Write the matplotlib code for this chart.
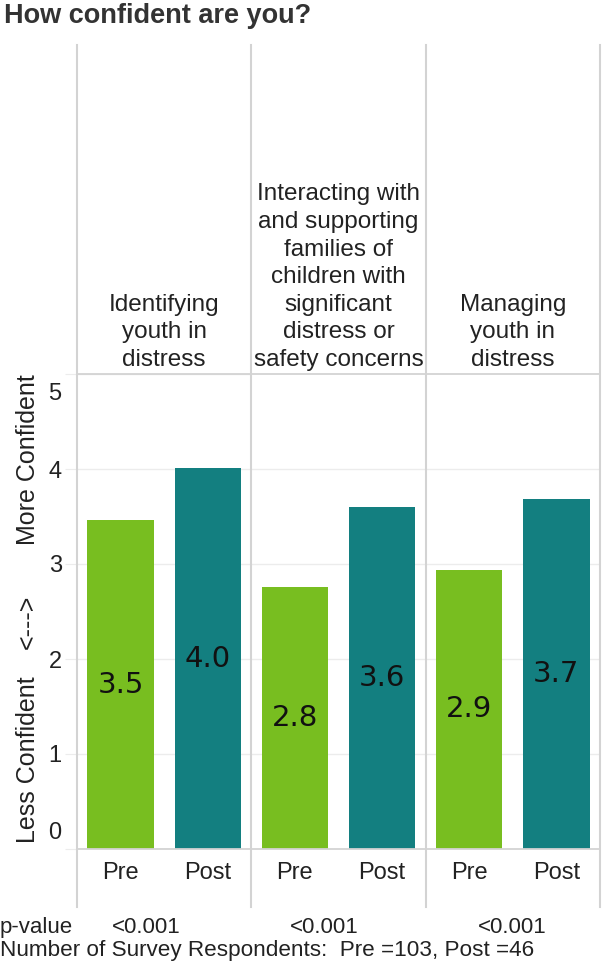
import matplotlib
matplotlib.use("Agg")
import matplotlib.pyplot as plt
from matplotlib.lines import Line2D
import matplotlib.transforms as mtrans

# ---- data ----
categories = ["Identifying\nyouth in\ndistress",
              "Interacting with\nand supporting\nfamilies of\nchildren with\nsignificant\ndistress or\nsafety concerns",
              "Managing\nyouth in\ndistress"]
groups = ["Pre", "Post"]
pre_values = [3.46, 2.76, 2.94]
post_values = [4.01, 3.60, 3.68]
p_values = ["<0.001", "<0.001", "<0.001"]
y_ticks = [0, 1, 2, 3, 4, 5]
colors = {"Pre": "#78BE20", "Post": "#137F80"}

W, H = 603, 971
DPI = 100
fig = plt.figure(figsize=(W / DPI, H / DPI), dpi=DPI)
fig.patch.set_facecolor("white")

SANS = ["Liberation Sans", "DejaVu Sans"]
TXT = "#222222"
DIV = "#d3d3d3"
GRID = "#ececec"

def fx(px):
    return px / W

def fy(py):
    return 1 - py / H

left_px, right_px = 77, 600
top_px, bottom_px = 374, 849
pw = (right_px - left_px) / 3

axes = []
for i in range(3):
    ax = fig.add_axes([fx(left_px + i * pw), fy(bottom_px), fx(pw), (bottom_px - top_px) / H])
    axes.append(ax)
    vals = [pre_values[i], post_values[i]]
    bars = ax.bar([0, 1], vals, width=0.76,
                  color=[colors[g] for g in groups], zorder=2)
    for b, v in zip(bars, vals):
        ax.text(b.get_x() + b.get_width() / 2, v / 2, f"{v:.1f}",
                ha="center", va="center", fontsize=21,
                family=["DejaVu Sans"], color="#111111", zorder=3)
    ax.set_xlim(-0.5, 1.5)
    ax.set_ylim(0, 5)
    for s in ax.spines.values():
        s.set_visible(False)
    ax.set_yticks([1, 2, 3, 4])
    ax.yaxis.grid(True, color=GRID, lw=1, zorder=0)
    ax.set_axisbelow(True)
    ax.set_xticks([0, 1])
    ax.set_xticklabels(groups, fontsize=17, family=SANS, color=TXT)
    ax.tick_params(axis="x", length=0, pad=9)
    if i == 0:
        ax.set_yticks(y_ticks)
        ax.tick_params(axis="y", length=9, color=GRID, pad=2)
        labs = ax.set_yticklabels([str(t) for t in y_ticks], fontsize=17,
                                  family=SANS, color=TXT)
        labs[0].set_transform(labs[0].get_transform() +
                              mtrans.ScaledTranslation(0, 19 / DPI, fig.dpi_scale_trans))
        labs[-1].set_transform(labs[-1].get_transform() +
                               mtrans.ScaledTranslation(0, -17 / DPI, fig.dpi_scale_trans))
    else:
        ax.tick_params(axis="y", length=0, labelleft=False)
    ax.text(0.5, 1.0 + 3 / (bottom_px - top_px), categories[i],
            transform=ax.transAxes, ha="center", va="bottom",
            fontsize=17.5, family=SANS, color=TXT, linespacing=1.33)

# frame lines
for i in range(4):
    x = left_px + i * pw
    fig.add_artist(Line2D([fx(x), fx(x)], [fy(45), fy(907)], color=DIV, lw=1.5))
for y in (top_px, bottom_px):
    fig.add_artist(Line2D([fx(left_px), fx(right_px)], [fy(y), fy(y)], color=DIV, lw=1.3))

# title
fig.text(fx(4), fy(16), "How confident are you?", fontsize=19.5, fontweight="bold",
         family=SANS, color="#333333", ha="left", va="center")

# y label pieces
fig.text(fx(28), fy(760), "Less Confident", rotation=90, fontsize=18, family=SANS,
         color=TXT, ha="center", va="center")
fig.text(fx(28), fy(622), "<--->", rotation=90, fontsize=18, family=SANS,
         color=TXT, ha="center", va="center")
fig.text(fx(28), fy(460), "More Confident", rotation=90, fontsize=18, family=SANS,
         color=TXT, ha="center", va="center")

# footer
fig.text(fx(0), fy(927), "p-value", fontsize=16, family=SANS, color=TXT,
         ha="left", va="center")
for xp, pv in zip([112, 290, 478], p_values):
    fig.text(fx(xp), fy(927), pv, fontsize=16, family=SANS, color=TXT,
             ha="left", va="center")
fig.text(fx(0), fy(950), "Number of Survey Respondents:  Pre =103, Post =46",
         fontsize=16.2, family=SANS, color=TXT, ha="left", va="center")

fig.savefig("out.png", dpi=DPI, facecolor="white")
